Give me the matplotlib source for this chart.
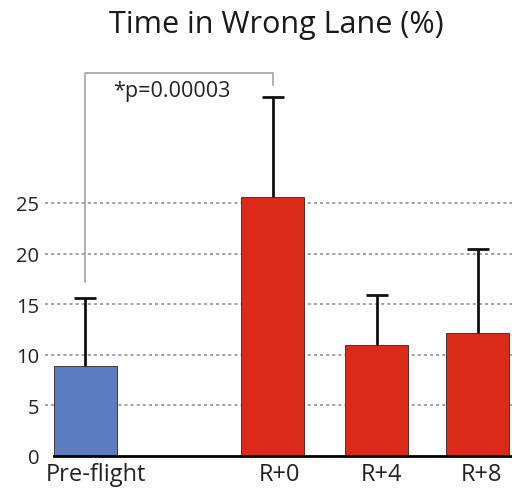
import matplotlib
matplotlib.use('Agg')
import matplotlib.pyplot as plt
import matplotlib.transforms as mtransforms
import numpy as np

plt.rcParams['font.family'] = ['Open Sans', 'DejaVu Sans']

# data
groups = ['Pre-flight', 'R+0', 'R+4', 'R+8']
xpos = [0, 1.8, 2.8, 3.77]
means = [8.9, 25.6, 11.0, 12.1]
sd_upper = [6.7, 9.9, 4.9, 8.3]
colors = ['#5b7cc0', '#db2a18', '#db2a18', '#db2a18']
yticks = [0, 5, 10, 15, 20, 25]
p_label = '*p=0.00003'

fig = plt.figure(figsize=(5.12, 4.89), dpi=100)
ax = fig.add_axes([45 / 512, 32 / 489, 467 / 512, 405 / 489])

bw = 0.6
ax.bar(xpos, means, bw, color=colors, edgecolor='#3a2020', linewidth=0.6, zorder=2)
# upper-only error bars: stem + cap on top
tops = np.array(means) + np.array(sd_upper)
ax.vlines(xpos, means, tops, color='#111111', lw=2, zorder=3)
ax.plot(xpos, tops, ls='none', marker='_', ms=16, mew=2, color='#111111', zorder=3)

# significance bracket between pre-flight and R+0
top = 37.8
ax.plot([xpos[0], xpos[0], xpos[1], xpos[1]],
        [tops[0] + 1.6, top, top, top - 1.2],
        color='#9a9a9a', lw=1.1, zorder=1)
ax.text(0.83, 36.1, p_label, ha='center', va='center',
        fontsize=15.5, color='#222222')

ax.set_xlim(-0.387, 4.10)
ax.set_ylim(0, 40)
ax.set_yticks(yticks)
ax.set_yticklabels([str(t) for t in yticks], fontsize=14.5, color='#222222')
ax.set_xticks(xpos)
ax.set_xticklabels(groups, fontsize=17, color='#222222')
ax.tick_params(length=0, pad=4)
ax.tick_params(axis='x', pad=4)

# labels sit a little right of the bar centres in the reference
label_shift = [11, 7, 5, 4]
for lab, dx in zip(ax.get_xticklabels(), label_shift):
    lab.set_transform(lab.get_transform() +
                      mtransforms.ScaledTranslation(dx / 100, 0, fig.dpi_scale_trans))

for t in yticks[1:]:
    ax.axhline(t, color='#8a8a8a', lw=1.1, ls=(0, (2, 2)), zorder=0)

for s in ['left', 'right', 'top']:
    ax.spines[s].set_visible(False)
ax.spines['bottom'].set_bounds(-0.3, 4.10)
ax.spines['bottom'].set_linewidth(2)

fig.text(276 / 512, 1 - 33 / 489, 'Time in Wrong Lane (%)', ha='center', va='baseline',
         fontsize=22, color='#1a1a1a')

fig.savefig('out.png', dpi=100)
